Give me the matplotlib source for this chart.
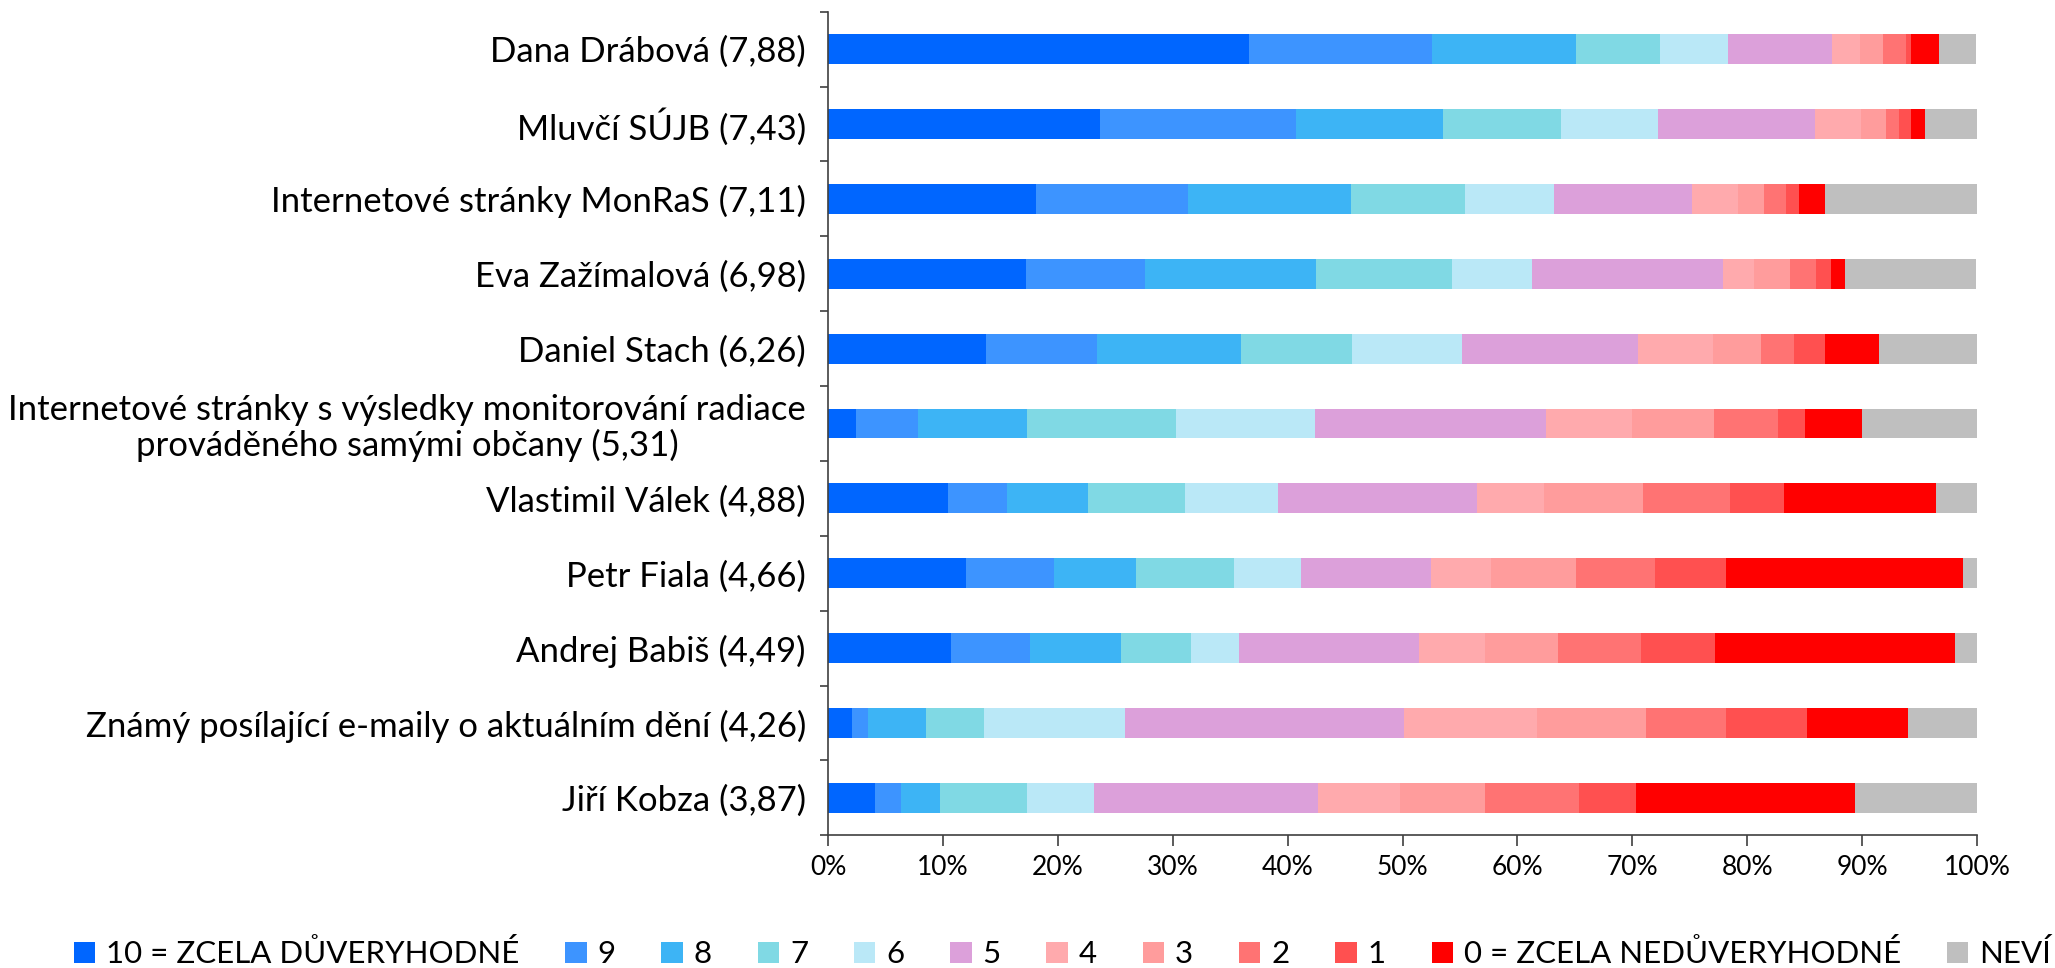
import numpy as np
import matplotlib
matplotlib.use('Agg')
import matplotlib.pyplot as plt
from matplotlib.ticker import FixedLocator

plt.rcParams['font.family'] = ['Lato', 'DejaVu Sans']

names = ['Dana Drábová (7,88)', 'Mluvčí SÚJB (7,43)', 'Internetové stránky MonRaS (7,11)',
         'Eva Zažímalová (6,98)', 'Daniel Stach (6,26)',
         'Internetové stránky s výsledky monitorování radiace\nprováděného samými občany (5,31)',
         'Vlastimil Válek (4,88)', 'Petr Fiala (4,66)', 'Andrej Babiš (4,49)',
         'Známý posílající e-maily o aktuálním dění (4,26)', 'Jiří Kobza (3,87)']

levels = ['10 = ZCELA DŮVERYHODNÉ', '9', '8', '7', '6', '5', '4', '3', '2', '1',
          '0 = ZCELA NEDŮVERYHODNÉ', 'NEVÍ']

# share of answers in % per level, rows in the order of names
s10 = [36.6, 23.7, 18.1, 17.2, 13.7, 2.4, 10.4, 12.0, 10.7, 2.1, 4.1]
s9 = [16.0, 17.0, 13.2, 10.4, 9.7, 5.4, 5.2, 7.7, 6.9, 1.4, 2.2]
s8 = [12.5, 12.8, 14.2, 14.9, 12.5, 9.5, 7.0, 7.1, 7.9, 5.0, 3.4]
s7 = [7.3, 10.3, 9.9, 11.8, 9.7, 13.0, 8.5, 8.5, 6.1, 5.1, 7.6]
s6 = [5.9, 8.4, 7.8, 7.0, 9.6, 12.1, 8.1, 5.9, 4.2, 12.2, 5.8]
s5 = [9.1, 13.7, 12.0, 16.6, 15.3, 20.1, 17.3, 11.3, 15.6, 24.3, 19.5]
s4 = [2.4, 4.0, 4.0, 2.7, 6.5, 7.5, 5.8, 5.2, 5.8, 11.6, 7.2]
s3 = [2.0, 2.2, 2.3, 3.1, 4.2, 7.1, 8.6, 7.4, 6.3, 9.5, 7.4]
s2 = [2.0, 1.1, 1.9, 2.3, 2.9, 5.6, 7.6, 6.9, 7.3, 7.0, 8.2]
s1 = [0.5, 1.1, 1.1, 1.3, 2.7, 2.3, 4.7, 6.2, 6.4, 7.0, 4.9]
s0 = [2.4, 1.2, 2.3, 1.2, 4.7, 5.0, 13.2, 20.6, 20.9, 8.8, 19.1]
nevi = [3.2, 4.6, 13.3, 11.4, 8.6, 10.1, 3.7, 1.2, 2.0, 6.0, 10.8]

xticks = [0, 10, 20, 30, 40, 50, 60, 70, 80, 90, 100]
xticklabels = ['0%', '10%', '20%', '30%', '40%', '50%', '60%', '70%', '80%', '90%', '100%']

colors = ['#0066ff', '#3d94ff', '#3db4f5', '#80d9e4', '#bae8f7', '#dca0da',
          '#ffaaad', '#ff9c9c', '#ff7373', '#ff5050', '#ff0000', '#bfbfbf']

series = [s10, s9, s8, s7, s6, s5, s4, s3, s2, s1, s0, nevi]

fig = plt.figure(figsize=(20.55, 9.68), dpi=100)
ax = fig.add_axes([0.403, 0.137, 0.559, 0.851])

y = np.arange(len(names))
left = np.zeros(len(names))
for vals, lab, col in zip(series, levels, colors):
    vals = np.array(vals)
    ax.barh(y, vals, left=left, height=0.4, color=col, label=lab)
    left += vals

ax.set_xlim(0, 100)
ax.set_ylim(len(names) - 0.5, -0.5)
ax.set_xticks(xticks)
ax.set_xticklabels(xticklabels, fontsize=19)
ax.set_yticks(y)
ax.set_yticklabels(names, fontsize=25)
for t in ax.get_yticklabels():
    t.set_multialignment('center')
    t.set_linespacing(1.1)
ax.yaxis.set_minor_locator(FixedLocator(np.arange(len(names) + 1) - 0.5))
ax.tick_params(axis='y', which='major', length=0, pad=16)
ax.tick_params(axis='y', which='minor', length=6, width=1.2, color='#404040')
ax.tick_params(axis='x', length=8, width=1.2, color='#404040', pad=6)

for s in ['top', 'right']:
    ax.spines[s].set_visible(False)
for s in ['left', 'bottom']:
    ax.spines[s].set_color('#404040')
    ax.spines[s].set_linewidth(1.2)

fig.legend(loc='center', bbox_to_anchor=(0.517, 0.0145), ncol=12, frameon=False,
           fontsize=22.5, handlelength=0.69, handleheight=0.69, handletextpad=0.35,
           columnspacing=1.46, borderpad=0, borderaxespad=0)

fig.savefig('out.png', dpi=100)
